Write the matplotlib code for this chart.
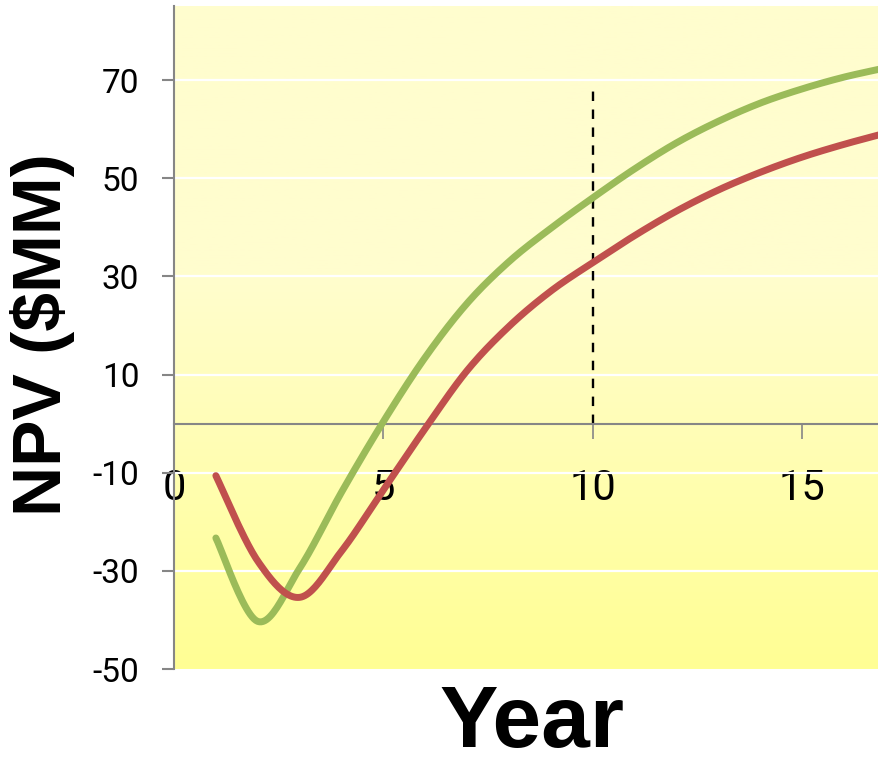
"""NPV vs. year for two cases, Excel-style smoothed lines on a yellow gradient panel."""
import matplotlib
matplotlib.use("Agg")
import matplotlib.pyplot as plt
import numpy as np
from matplotlib.colors import LinearSegmentedColormap

plt.rcParams["axes.unicode_minus"] = False

# data (year, NPV in $MM)
years = [1, 2, 3, 4, 5, 6, 7, 8, 9, 10, 11, 12, 13, 14, 15, 16, 17]
npv_green = [-23.3, -40.3, -29.5, -14.0, 0.4, 13.5, 24.5, 33.0, 39.8, 46.0,
             51.9, 57.2, 61.6, 65.3, 68.2, 70.6, 72.5]
npv_red = [-10.6, -28.0, -35.4, -26.0, -13.5, -1.0, 10.8, 19.8, 27.0, 32.8,
           38.3, 43.3, 47.6, 51.2, 54.3, 56.9, 59.2]
x_ticks = [0, 5, 10, 15]
y_ticks = [-50, -30, -10, 10, 30, 50, 70]
mark_year, mark_top = 10, 68.4

GREEN, RED, GRAY = "#9BBB59", "#C0504D", "#868686"
TICK_FONT = ["Roboto", "DejaVu Sans"]
LABEL_FONT = ["Liberation Sans", "DejaVu Sans"]


def smooth(x, y, n=24):
    # Catmull-Rom curve through the points, like Excel's "smoothed line"
    pts = np.column_stack([x, y]).astype(float)
    P = np.vstack([pts[0], pts, pts[-1]])
    t = np.linspace(0, 1, n, endpoint=False)[:, None]
    segs = []
    for i in range(1, len(P) - 2):
        p0, p1, p2, p3 = P[i - 1], P[i], P[i + 1], P[i + 2]
        segs.append(0.5 * (2 * p1 + (p2 - p0) * t
                           + (2 * p0 - 5 * p1 + 4 * p2 - p3) * t ** 2
                           + (3 * p1 - p0 - 3 * p2 + p3) * t ** 3))
    segs.append(pts[-1:])
    s = np.vstack(segs)
    return s[:, 0], s[:, 1]


fig = plt.figure(figsize=(8.79, 7.65), dpi=100)
ax = fig.add_axes([174 / 879, 96 / 765, 705 / 879, 663 / 765])
ax.set_xlim(0, 16.84)
ax.set_ylim(-50, 85.1)
ax.set_axisbelow(True)

# background: pale cream on top, fading to yellow at the bottom
cmap = LinearSegmentedColormap.from_list(
    "bg", [(0, "#FFFF94"), (0.6, "#FFFDCE"), (1, "#FFFDCE")])
grad = np.linspace(0, 1, 256)[:, None]
ax.imshow(grad, cmap=cmap, origin="lower", aspect="auto", extent=[0, 1, 0, 1],
          transform=ax.transAxes, zorder=0)

for v in y_ticks[1:]:
    ax.axhline(v, color="white", lw=1.6, zorder=1)

ax.vlines(mark_year, 0, mark_top, color="black", lw=1.7, linestyles=(0, (4, 3.6)),
          zorder=2)

gx, gy = smooth(years, npv_green)
rx, ry = smooth(years, npv_red)
ax.plot(gx, gy, color=GREEN, lw=5, solid_capstyle="round", zorder=3)
ax.plot(rx, ry, color=RED, lw=5, solid_capstyle="round", zorder=3)

for side in ("top", "right"):
    ax.spines[side].set_visible(False)
ax.spines["bottom"].set_position(("data", 0))
for side in ("left", "bottom"):
    ax.spines[side].set_color(GRAY)
    ax.spines[side].set_linewidth(1.5)

ax.set_xticks(x_ticks)
ax.set_yticks(y_ticks)
ax.tick_params(axis="x", direction="out", length=11, width=1.2, color=GRAY,
               pad=21, labelsize=30, labelcolor="black")
ax.tick_params(axis="y", direction="out", length=9, width=1.5, color=GRAY,
               pad=16, labelsize=24, labelcolor="black")
for lab in ax.get_xticklabels() + ax.get_yticklabels():
    lab.set_family(TICK_FONT)

fig.text(42.5 / 879, 1 - 335 / 765, "NPV ($MM)", rotation=90, ha="center",
         va="center", fontsize=50, fontweight="bold", family=LABEL_FONT)
fig.text(531.5 / 879, 0.5 / 765, "Year", ha="center", va="bottom",
         fontsize=63, fontweight="bold", family=LABEL_FONT)

fig.savefig("out.png", dpi=100)
